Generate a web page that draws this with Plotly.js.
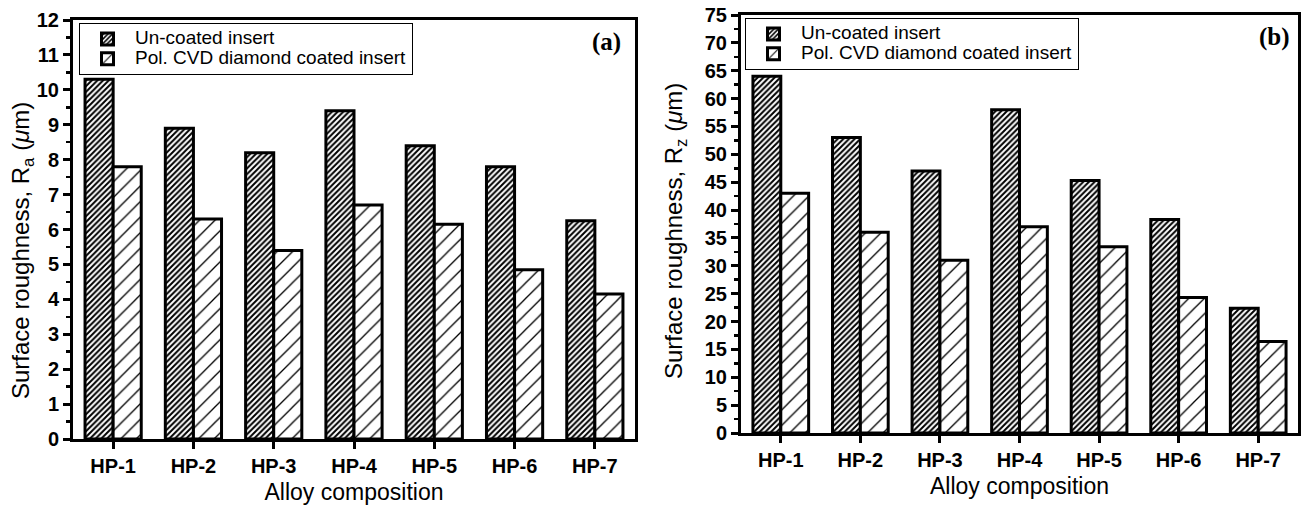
<!DOCTYPE html>
<html>
<head>
<meta charset="utf-8">
<script src="https://cdn.plot.ly/plotly-3.0.1.min.js"></script>
<style>html,body{margin:0;padding:0;background:#fff;}#chart{width:1306px;height:506px;}</style>
</head>
<body>
<div id="chart"></div>
<script>
const categories = ['HP-1', 'HP-2', 'HP-3', 'HP-4', 'HP-5', 'HP-6', 'HP-7'];
const raUncoated = [10.3, 8.9, 8.2, 9.4, 8.4, 7.8, 6.25];
const raCoated = [7.8, 6.3, 5.4, 6.7, 6.15, 4.85, 4.15];
const rzUncoated = [64, 53, 47, 58, 45.3, 38.3, 22.4];
const rzCoated = [43, 36, 31, 37, 33.4, 24.3, 16.4];
const seriesNames = ['Un-coated insert', 'Pol. CVD diamond coated insert'];
const xTitle = 'Alloy composition';
const yTitleA = 'Surface roughness, R<sub>a</sub> (<i>μ</i>m)';
const yTitleB = 'Surface roughness, R<sub>z</sub> (<i>μ</i>m)';

const F = 'Liberation Sans, Arial, sans-serif';
const legendName = (s) => '<span style="font-size:19px">' + s + '</span>';
const denseMarker = {
  color: '#fff',
  line: {color: '#000', width: 3},
  pattern: {shape: '/', fgcolor: '#000', bgcolor: '#fff', size: 4, solidity: 0.5}
};
const sparseMarker = {
  color: '#fff',
  line: {color: '#000', width: 3},
  pattern: {shape: '/', fgcolor: '#000', bgcolor: '#fff', size: 11, solidity: 0.12}
};

const traces = [
  {type: 'bar', x: categories, y: raUncoated, name: legendName(seriesNames[0]), xaxis: 'x', yaxis: 'y', marker: denseMarker, legend: 'legend'},
  {type: 'bar', x: categories, y: raCoated, name: legendName(seriesNames[1]), xaxis: 'x', yaxis: 'y', marker: sparseMarker, legend: 'legend'},
  {type: 'bar', x: categories, y: rzUncoated, name: legendName(seriesNames[0]), xaxis: 'x2', yaxis: 'y2', marker: denseMarker, legend: 'legend2'},
  {type: 'bar', x: categories, y: rzCoated, name: legendName(seriesNames[1]), xaxis: 'x2', yaxis: 'y2', marker: sparseMarker, legend: 'legend2'}
];

function xax(domain, anchor) {
  return {
    domain: domain, anchor: anchor, type: 'category', range: [-0.5, 6.5],
    showline: true, linewidth: 3, linecolor: '#000', mirror: true,
    ticks: 'outside', ticklen: 7, tickwidth: 3, tickcolor: '#000',
    tickfont: {family: F, size: 20, color: '#000', weight: 'bold'},
    showgrid: false, zeroline: false, fixedrange: true,
    title: {text: xTitle, font: {family: F, size: 23, color: '#000'}, standoff: 8}
  };
}
function yax(domain, anchor, max, dt, minorDt) {
  return {
    domain: domain, anchor: anchor, range: [0, max], dtick: dt, tick0: 0,
    showline: true, linewidth: 3, linecolor: '#000', mirror: true,
    ticks: 'outside', ticklen: 7, tickwidth: 3, tickcolor: '#000',
    minor: {dtick: minorDt, ticks: 'outside', ticklen: 4, tickwidth: 2.5, tickcolor: '#000', showgrid: false},
    tickfont: {family: F, size: 20, color: '#000', weight: 'bold'},
    showgrid: false, zeroline: false, fixedrange: true
  };
}

const legendBase = {
  xanchor: 'left', yanchor: 'top',
  bgcolor: '#fff', bordercolor: '#000', borderwidth: 1,
  font: {family: F, size: 13, color: '#000'}, tracegroupgap: 0, itemwidth: 45
};

const layout = {
  width: 1306, height: 506,
  margin: {l: 0, r: 0, t: 0, b: 0},
  paper_bgcolor: '#fff', plot_bgcolor: '#fff',
  barmode: 'group', bargap: 0.3, bargroupgap: 0,
  showlegend: true,
  xaxis: xax([73 / 1306, 635 / 1306], 'y'),
  yaxis: yax([1 - 439 / 506, 1 - 20 / 506], 'x', 12, 1, 0.5),
  xaxis2: xax([741 / 1306, 1298 / 1306], 'y2'),
  yaxis2: yax([1 - 433 / 506, 1 - 15 / 506], 'x2', 75, 5, 2.5),
  legend: Object.assign({x: 79 / 1306, y: 1 - 23 / 506}, legendBase),
  legend2: Object.assign({x: 745 / 1306, y: 1 - 18 / 506}, legendBase),
  annotations: [
    {xref: 'paper', yref: 'paper', x: 22 / 1306, y: 1 - 251 / 506, xanchor: 'center', yanchor: 'middle', textangle: -90, showarrow: false,
     text: yTitleA, font: {family: F, size: 24, color: '#000'}},
    {xref: 'paper', yref: 'paper', x: 675 / 1306, y: 1 - 231 / 506, xanchor: 'center', yanchor: 'middle', textangle: -90, showarrow: false,
     text: yTitleB, font: {family: F, size: 24, color: '#000'}},
    {xref: 'x domain', yref: 'y domain', x: 0.979, y: 0.985, xanchor: 'right', yanchor: 'top', showarrow: false,
     text: '<b>(a)</b>', font: {family: 'Liberation Serif, Times New Roman, serif', size: 25, color: '#000'}},
    {xref: 'x2 domain', yref: 'y2 domain', x: 0.99, y: 0.985, xanchor: 'right', yanchor: 'top', showarrow: false,
     text: '<b>(b)</b>', font: {family: 'Liberation Serif, Times New Roman, serif', size: 25, color: '#000'}}
  ]
};

Plotly.newPlot('chart', traces, layout, {displayModeBar: false, staticPlot: true});
</script>
</body>
</html>
